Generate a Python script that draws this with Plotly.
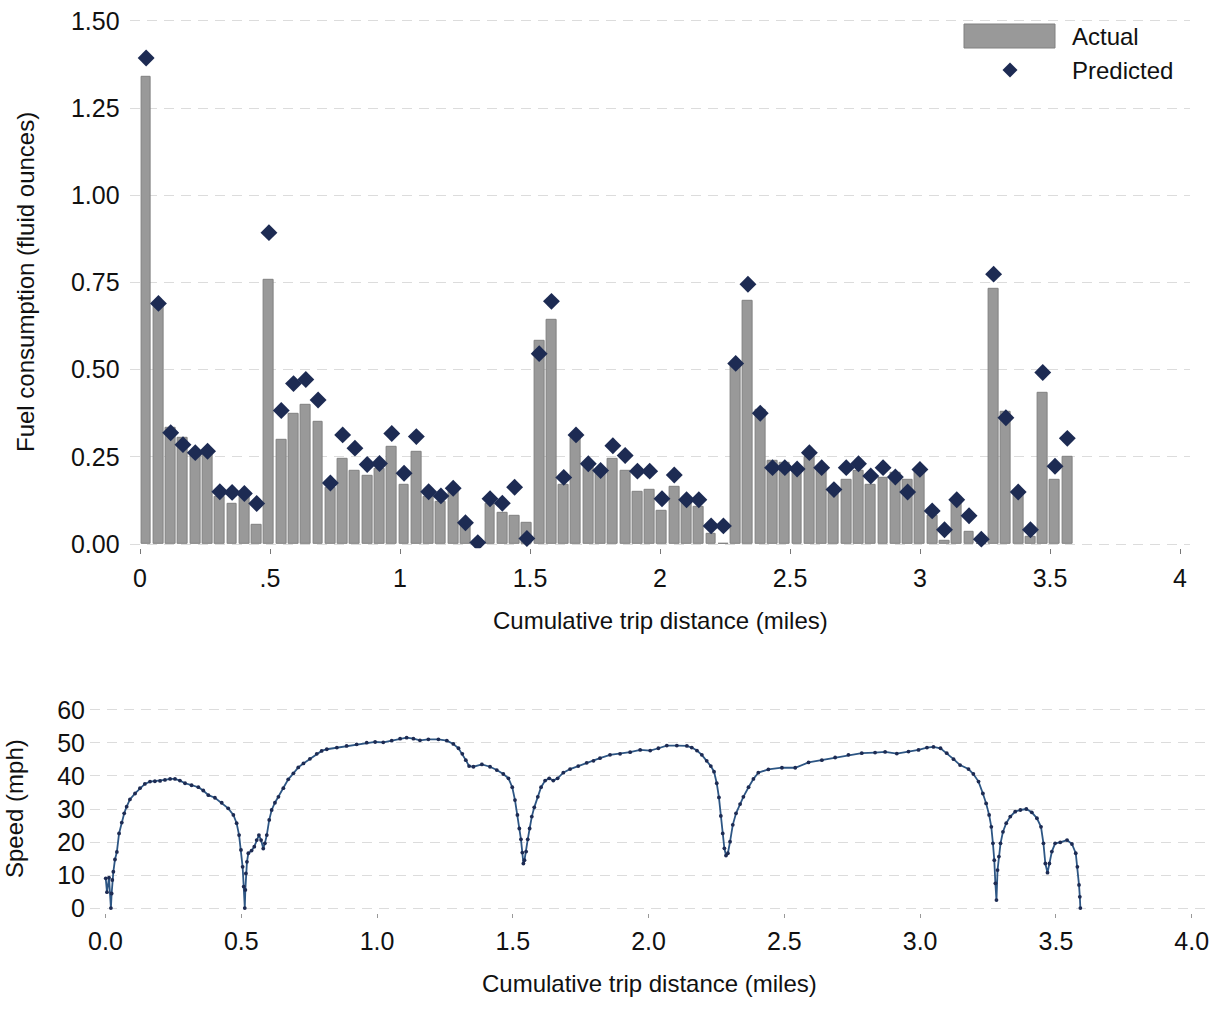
import plotly.graph_objects as go

# ---------------- data ----------------
# fuel-consumption segments (midpoint of each equal-distance segment, miles)
seg_mid = [0.0236, 0.0709, 0.1181, 0.1653, 0.2126, 0.2598, 0.3071, 0.3543, 0.4015, 0.4488,
           0.4960, 0.5433, 0.5905, 0.6377, 0.6850, 0.7322, 0.7795, 0.8267, 0.8739, 0.9212,
           0.9684, 1.0157, 1.0629, 1.1101, 1.1574, 1.2046, 1.2518, 1.2991, 1.3463, 1.3936,
           1.4408, 1.4880, 1.5353, 1.5825, 1.6298, 1.6770, 1.7242, 1.7715, 1.8187, 1.8660,
           1.9132, 1.9604, 2.0077, 2.0549, 2.1022, 2.1494, 2.1966, 2.2439, 2.2911, 2.3383,
           2.3856, 2.4328, 2.4801, 2.5273, 2.5745, 2.6218, 2.6690, 2.7163, 2.7635, 2.8107,
           2.8580, 2.9052, 2.9525, 2.9997, 3.0469, 3.0942, 3.1414, 3.1886, 3.2359, 3.2831,
           3.3304, 3.3776, 3.4248, 3.4721, 3.5193, 3.5666]

actual = [1.340, 0.690, 0.332, 0.304, 0.262, 0.262, 0.135, 0.116, 0.135, 0.054,
          0.757, 0.298, 0.373, 0.400, 0.351, 0.162, 0.245, 0.210, 0.196, 0.217,
          0.278, 0.169, 0.264, 0.135, 0.121, 0.152, 0.056, 0.000, 0.115, 0.089,
          0.082, 0.061, 0.582, 0.642, 0.170, 0.306, 0.222, 0.208, 0.244, 0.211,
          0.150, 0.156, 0.096, 0.163, 0.125, 0.108, 0.028, 0.000, 0.511, 0.698,
          0.385, 0.238, 0.232, 0.216, 0.251, 0.216, 0.146, 0.184, 0.211, 0.170,
          0.190, 0.205, 0.184, 0.211, 0.082, 0.008, 0.120, 0.034, 0.000, 0.731,
          0.380, 0.147, 0.022, 0.433, 0.184, 0.250]

predicted = [1.394, 0.690, 0.319, 0.285, 0.262, 0.266, 0.150, 0.148, 0.145, 0.116,
             0.893, 0.383, 0.460, 0.472, 0.413, 0.175, 0.313, 0.275, 0.228, 0.231,
             0.317, 0.203, 0.308, 0.150, 0.138, 0.160, 0.061, 0.004, 0.130, 0.117,
             0.163, 0.016, 0.546, 0.696, 0.191, 0.313, 0.230, 0.211, 0.282, 0.254,
             0.209, 0.209, 0.130, 0.198, 0.127, 0.127, 0.052, 0.052, 0.518, 0.745,
             0.375, 0.219, 0.219, 0.215, 0.262, 0.219, 0.156, 0.219, 0.230, 0.195,
             0.219, 0.192, 0.149, 0.214, 0.095, 0.041, 0.127, 0.081, 0.014, 0.774,
             0.362, 0.149, 0.041, 0.492, 0.223, 0.303]

# speed trace
speed_dist = [0.001, 0.0055, 0.013, 0.020, 0.0227, 0.025, 0.029, 0.035, 0.042, 0.050,
              0.060, 0.069, 0.078, 0.090, 0.109, 0.127, 0.145, 0.164, 0.182, 0.201,
              0.219, 0.238, 0.256, 0.274, 0.293, 0.317, 0.342, 0.360, 0.379, 0.403,
              0.428, 0.452, 0.471, 0.483, 0.492, 0.499, 0.505, 0.509, 0.513, 0.515,
              0.517, 0.521, 0.526, 0.538, 0.548, 0.557, 0.565, 0.573, 0.581, 0.587,
              0.594, 0.603, 0.612, 0.624, 0.637, 0.655, 0.673, 0.692, 0.710, 0.729,
              0.753, 0.778, 0.796, 0.815, 0.852, 0.888, 0.925, 0.962, 0.993, 1.023,
              1.054, 1.085, 1.109, 1.134, 1.158, 1.189, 1.226, 1.257, 1.281, 1.300,
              1.314, 1.327, 1.339, 1.355, 1.386, 1.416, 1.441, 1.465, 1.484, 1.498,
              1.508, 1.517, 1.524, 1.530, 1.535, 1.539, 1.543, 1.549, 1.555, 1.562,
              1.570, 1.579, 1.592, 1.604, 1.619, 1.634, 1.649, 1.665, 1.686, 1.711,
              1.741, 1.772, 1.797, 1.821, 1.858, 1.895, 1.932, 1.969, 2.006, 2.036,
              2.067, 2.104, 2.141, 2.159, 2.178, 2.196, 2.214, 2.229, 2.241, 2.251,
              2.259, 2.266, 2.273, 2.279, 2.285, 2.292, 2.300, 2.310, 2.322, 2.337,
              2.349, 2.368, 2.386, 2.404, 2.441, 2.491, 2.540, 2.589, 2.638, 2.687,
              2.736, 2.785, 2.834, 2.871, 2.914, 2.957, 2.994, 3.025, 3.049, 3.075,
              3.098, 3.123, 3.147, 3.178, 3.196, 3.215, 3.231, 3.243, 3.254, 3.262,
              3.268, 3.273, 3.277, 3.281, 3.285, 3.290, 3.296, 3.305, 3.317, 3.332,
              3.350, 3.369, 3.391, 3.411, 3.430, 3.445, 3.454, 3.461, 3.469, 3.476,
              3.485, 3.497, 3.516, 3.541, 3.559, 3.573, 3.579, 3.585, 3.588, 3.590]

speed_mph = [9.0, 4.8, 9.2, 0.0, 4.4, 8.5, 11.0, 14.7, 17.0, 22.6,
             25.9, 28.7, 30.7, 32.9, 34.7, 36.3, 37.6, 38.3, 38.4, 38.5,
             38.8, 39.1, 39.1, 38.6, 37.8, 37.2, 36.6, 35.6, 34.2, 33.4,
             31.9, 30.2, 28.2, 25.7, 22.1, 17.6, 12.5, 6.5, 0.0, 5.5,
             10.5, 14.0, 16.6, 17.4, 18.6, 20.6, 22.1, 20.6, 18.0, 19.6,
             22.1, 26.7, 29.7, 31.9, 33.7, 36.3, 39.0, 40.8, 42.6, 43.8,
             45.2, 46.7, 47.6, 48.1, 48.6, 49.1, 49.6, 50.1, 50.3, 50.2,
             50.7, 51.3, 51.6, 51.3, 50.8, 51.1, 51.1, 50.7, 49.7, 48.4,
             46.7, 44.8, 43.0, 42.8, 43.5, 42.8, 41.8, 40.6, 39.3, 36.6,
             32.7, 28.2, 24.1, 20.8, 16.8, 13.5, 14.5, 17.1, 20.8, 24.1,
             27.7, 30.5, 33.7, 36.6, 38.6, 39.3, 38.6, 39.3, 41.0, 42.1,
             43.0, 44.0, 44.6, 45.4, 46.4, 46.7, 47.2, 47.9, 47.7, 48.4,
             49.2, 49.2, 49.1, 48.6, 47.7, 46.4, 44.6, 43.0, 41.3, 37.8,
             33.5, 27.9, 22.6, 18.1, 15.9, 16.6, 20.1, 25.2, 28.7, 31.5,
             33.7, 36.6, 39.1, 41.0, 42.0, 42.5, 42.5, 44.1, 44.8, 45.6,
             46.4, 46.9, 47.1, 47.3, 46.8, 47.4, 47.9, 48.6, 48.8, 48.4,
             46.9, 45.1, 43.3, 42.1, 40.6, 38.3, 34.7, 31.7, 28.2, 24.6,
             19.6, 14.5, 7.5, 2.4, 11.5, 15.6, 19.6, 23.1, 25.7, 27.7,
             29.2, 29.7, 30.0, 29.0, 27.2, 24.6, 19.6, 13.5, 10.7, 13.5,
             17.1, 19.6, 19.9, 20.6, 19.4, 16.6, 12.5, 7.0, 3.4, 0.0]

fuel_ticks = [0, 0.25, 0.5, 0.75, 1.0, 1.25, 1.5]
fuel_ticklabels = ["0.00", "0.25", "0.50", "0.75", "1.00", "1.25", "1.50"]
dist_ticks = [0, 0.5, 1, 1.5, 2, 2.5, 3, 3.5, 4]
dist_ticklabels_top = ["0", ".5", "1", "1.5", "2", "2.5", "3", "3.5", "4"]
dist_ticklabels_bottom = ["0.0", "0.5", "1.0", "1.5", "2.0", "2.5", "3.0", "3.5", "4.0"]
speed_ticks = [0, 10, 20, 30, 40, 50, 60]

# ---------------- layout helpers ----------------
W, H = 1217, 1015
def px(x):
    return x / W
def py(y):
    return 1 - y / H

FONT = "Liberation Sans, Arial, Helvetica, sans-serif"
NAVY = "#1d2b53"
BAR = "#999999"
BAR_EDGE = "#808080"
GRID = "#dcdcdc"

fig = go.Figure()

fig.add_trace(go.Bar(
    x=seg_mid, y=actual, width=0.038,
    marker=dict(color=BAR, line=dict(color=BAR_EDGE, width=1)),
    name="Actual", showlegend=False, xaxis="x", yaxis="y"))

fig.add_trace(go.Scatter(
    x=seg_mid, y=predicted, mode="markers",
    marker=dict(symbol="diamond", size=13, color=NAVY, line=dict(width=0)),
    name="Predicted", showlegend=False, xaxis="x", yaxis="y"))

fig.add_trace(go.Scatter(
    x=speed_dist, y=speed_mph, mode="lines+markers",
    line=dict(color="#2d5684", width=1.8),
    marker=dict(size=3.8, color=NAVY),
    name="Speed", showlegend=False, xaxis="x2", yaxis="y2"))

axis_font = dict(family=FONT, size=25, color="#111111")

fig.update_layout(
    width=W, height=H,
    margin=dict(l=0, r=0, t=0, b=0, autoexpand=False),
    paper_bgcolor="white", plot_bgcolor="white",
    font=dict(family=FONT, color="#111111"),
    bargap=0,
    xaxis=dict(
        domain=[px(129.6), px(1190.4)], range=[-0.04, 4.04], automargin=False,
        tickvals=dist_ticks, ticktext=dist_ticklabels_top,
        showgrid=False, zeroline=False, showline=False,
        ticks="outside", ticklen=5, tickwidth=1, tickcolor="#777777",
        tickfont=axis_font, ticklabelstandoff=3, anchor="y"),
    yaxis=dict(
        domain=[py(548.2), py(16.8)], range=[-0.012, 1.512], automargin=False,
        tickvals=fuel_ticks, ticktext=fuel_ticklabels,
        showgrid=True, gridcolor=GRID, griddash="10px,7px", gridwidth=1.2,
        zeroline=False, showline=False, ticks="",
        tickfont=axis_font, ticklabelstandoff=9, anchor="x"),
    xaxis2=dict(
        domain=[px(90), px(1208)], range=[-0.057, 4.06], automargin=False,
        tickvals=dist_ticks, ticktext=dist_ticklabels_bottom,
        showgrid=False, zeroline=False, showline=False,
        ticks="outside", ticklen=4, tickwidth=1, tickcolor="#999999",
        tickfont=axis_font, ticklabelstandoff=2, anchor="y2"),
    yaxis2=dict(
        domain=[py(913), py(705)], range=[-1.5, 61.5], automargin=False,
        tickvals=speed_ticks,
        showgrid=True, gridcolor=GRID, griddash="10px,7px", gridwidth=1.2,
        zeroline=False, showline=False, ticks="",
        tickfont=axis_font, ticklabelstandoff=4, anchor="x2"),
)

title_font = dict(family=FONT, size=24, color="#111111")
annotations = [
    dict(text="Cumulative trip distance (miles)", x=px(660), y=py(620),
         xref="paper", yref="paper", showarrow=False, font=title_font,
         xanchor="center", yanchor="middle"),
    dict(text="Fuel consumption (fluid ounces)", x=px(25), y=py(282),
         xref="paper", yref="paper", showarrow=False, font=title_font,
         textangle=-90, xanchor="center", yanchor="middle"),
    dict(text="Cumulative trip distance (miles)", x=px(649), y=py(983),
         xref="paper", yref="paper", showarrow=False, font=title_font,
         xanchor="center", yanchor="middle"),
    dict(text="Speed (mph)", x=px(14), y=py(809),
         xref="paper", yref="paper", showarrow=False, font=title_font,
         textangle=-90, xanchor="center", yanchor="middle"),
    # legend texts
    dict(text="Actual", x=px(1070), y=py(37), xref="paper", yref="paper",
         showarrow=False, font=title_font, xanchor="left", yanchor="middle"),
    dict(text="Predicted", x=px(1070), y=py(70), xref="paper", yref="paper",
         showarrow=False, font=title_font, xanchor="left", yanchor="middle"),
]

# legend keys (bar swatch and diamond)
cx, cy, r = px(1010), py(70), 7.5
shapes = [
    dict(type="rect", xref="paper", yref="paper",
         x0=px(964), x1=px(1055), y0=py(48), y1=py(24),
         fillcolor=BAR, line=dict(color=BAR_EDGE, width=1)),
    dict(type="path", xref="paper", yref="paper",
         path=(f"M {cx} {cy + r / H} L {cx + r / W} {cy} "
               f"L {cx} {cy - r / H} L {cx - r / W} {cy} Z"),
         fillcolor=NAVY, line=dict(color=NAVY, width=0)),
]

fig.update_layout(annotations=annotations, shapes=shapes)

fig.write_html(
    "out.html",
    config={"displayModeBar": False},
    post_script="document.body.style.margin='0';document.body.style.overflow='hidden';",
)
